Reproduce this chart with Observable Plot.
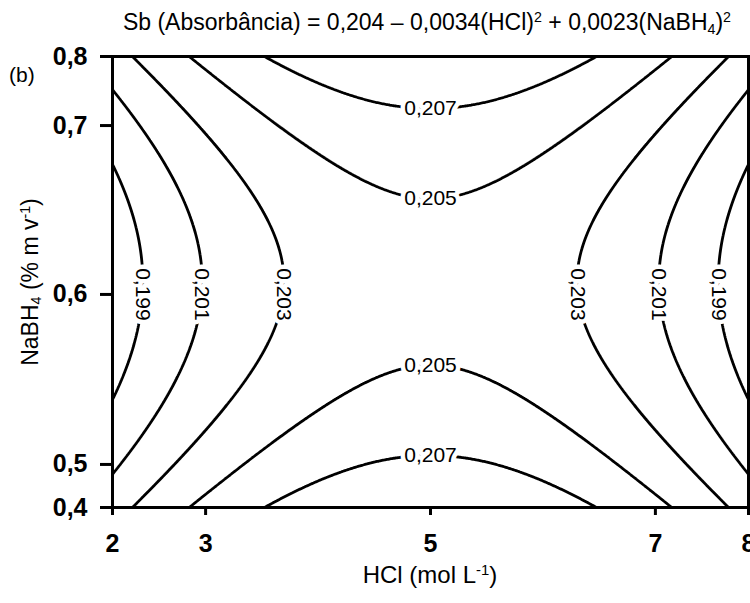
<!DOCTYPE html>
<html><head><meta charset="utf-8">
<script src="https://cdn.jsdelivr.net/npm/d3@7"></script>
<script src="https://cdn.jsdelivr.net/npm/@observablehq/plot@0.6"></script>
<style>
body{margin:0;background:#fff;width:750px;height:603px;position:relative;overflow:hidden;font-family:"Liberation Sans",Arial,sans-serif;color:#000}
#chart{position:absolute;left:0;top:0}
.ov{position:absolute;white-space:nowrap;line-height:1}
sup{font-size:0.62em;vertical-align:0.55em;line-height:0}
sub{font-size:0.62em;vertical-align:-0.25em;line-height:0}
#title{left:27px;width:800px;top:11px;text-align:center;font-size:23px}
#tag{left:9px;top:64px;font-size:21px}
#xlab{left:112px;width:636px;top:563px;text-align:center;font-size:24px}
#ylab{left:30px;top:282px;font-size:23px;transform:translate(-50%,-50%) rotate(-90deg)}
</style></head><body>
<div id="chart"></div>
<div class="ov" id="title">Sb (Absorbância) = 0,204 – 0,0034(HCl)<sup>2</sup> + 0,0023(NaBH<sub>4</sub>)<sup>2</sup></div>
<div class="ov" id="tag">(b)</div>
<div class="ov" id="xlab">HCl (mol L<sup>-1</sup>)</div>
<div class="ov" id="ylab">NaBH<sub>4</sub> (% m v<sup>-1</sup>)</div>
<script>
// contour levels and their printed labels
const levels = [0.199, 0.201, 0.203, 0.205, 0.207];
const levelText = ["0,199", "0,201", "0,203", "0,205", "0,207"];
// levels labelled on the vertical arcs (left/right) and on the horizontal arcs (top/bottom)
const verticalLabelLevels = [0.199, 0.201, 0.203];
const horizontalLabelLevels = [0.205, 0.207];
// axes (coded units) and tick labels as printed on the figure
const xDomain = [-1.414, 1.414];
const yDomain = [-1.414, 1.414];
const xTicks = [-1.414, -1, 0, 1, 1.414];
const xTickText = ["2", "3", "5", "7", "8"];
const yTicks = [-1.414, -1.144, -0.078, 0.981, 1.414];
const yTickText = ["0,4", "0,5", "0,6", "0,7", "0,8"];
// the vertical arcs carry their labels at the height of the "0,6" tick
const verticalLabelY = -0.078;
// response surface: const, HCl², NaBH4²
const modelTerms = ["1", "x2", "y2"];
const modelCoef = [0.2044, -0.0033, 0.0022];

const [c0, cxx, cyy] = modelCoef;
const f = (x, y) => c0 + cxx * x * x + cyy * y * y;

const vLabels = [];
verticalLabelLevels.forEach(L => {
  const r = Math.sqrt((c0 + cyy * verticalLabelY ** 2 - L) / -cxx);
  const t = levelText[levels.indexOf(L)];
  vLabels.push({x: -r, y: verticalLabelY, t}, {x: r, y: verticalLabelY, t});
});
const hLabels = [];
horizontalLabelLevels.forEach(L => {
  const r = Math.sqrt((L - c0) / cyy);
  const t = levelText[levels.indexOf(L)];
  hLabels.push({x: 0, y: r, t}, {x: 0, y: -r, t});
});

const plot = Plot.plot({
  width: 750, height: 603,
  marginLeft: 112, marginRight: 2, marginTop: 56, marginBottom: 96,
  x: {domain: xDomain},
  y: {domain: yDomain},
  style: {fontFamily: "'Liberation Sans', Arial, sans-serif", color: "black", background: "transparent"},
  marks: [
    Plot.contour({value: f, x1: xDomain[0], x2: xDomain[1], y1: yDomain[0], y2: yDomain[1],
      thresholds: levels, fill: "none", stroke: "black", strokeWidth: 2.8, pixelSize: 1, clip: true}),
    Plot.text(vLabels, {x: "x", y: "y", text: "t", rotate: 90, fontSize: 21, fill: "black",
      stroke: "white", strokeWidth: 9}),
    Plot.text(hLabels, {x: "x", y: "y", text: "t", fontSize: 21, fill: "black",
      stroke: "white", strokeWidth: 9}),
    Plot.frame({stroke: "black", strokeWidth: 3}),
    Plot.axisX({ticks: xTicks, tickFormat: d => xTickText[xTicks.indexOf(d)], tickSize: 8,
      strokeWidth: 3, tickPadding: 19, fontSize: 25, fontWeight: "bold", label: null}),
    Plot.axisY({ticks: yTicks, tickFormat: d => yTickText[yTicks.indexOf(d)], tickSize: 12,
      strokeWidth: 3, tickPadding: 13, fontSize: 25, fontWeight: "bold", label: null})
  ]
});
document.getElementById("chart").appendChild(plot);
</script>
</body></html>
